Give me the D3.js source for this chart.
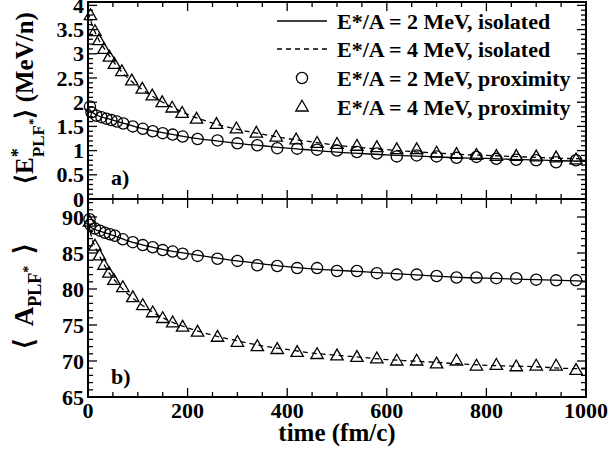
<!DOCTYPE html>
<html><head><meta charset="utf-8">
<script src="https://cdn.jsdelivr.net/npm/d3@7"></script>
<style>
html,body{margin:0;padding:0;background:#fff;}
</style></head>
<body><svg id="c" width="610" height="454"></svg>
<script>
// ---- data ----
const tIso = [0,10,20,40,60,80,100,150,200,250,300,350,400,450,500,550,600,650,700,750,800,850,900,950,1000];
const eIso2 = [1.88,1.78,1.72,1.66,1.60,1.54,1.48,1.37,1.28,1.21,1.15,1.10,1.05,1.01,0.97,0.94,0.91,0.89,0.87,0.85,0.84,0.82,0.81,0.79,0.78];
const eIso4 = [3.85,3.55,3.32,3.00,2.72,2.50,2.33,2.00,1.75,1.57,1.44,1.34,1.25,1.18,1.11,1.06,1.02,0.98,0.95,0.92,0.90,0.88,0.86,0.84,0.83];
const aIso2 = [88.8,88.4,88.1,87.7,87.2,86.7,86.3,85.5,84.9,84.4,83.9,83.5,83.1,82.8,82.6,82.4,82.2,82.0,81.8,81.6,81.5,81.4,81.3,81.2,81.1];
const aIso4 = [89.2,86.6,85.0,82.5,80.7,79.3,78.2,76.0,74.6,73.6,72.8,72.1,71.6,71.1,70.8,70.5,70.2,70.0,69.8,69.6,69.4,69.3,69.2,69.0,68.9];

const tLate = [460,500,540,580,620,660,700,740,780,820,860,900,940,980];
const tE2 = [4,7,17,27,37,47,58,71,90,110,130,150,170,190,220,260,300,340,380,420].concat(tLate);
const eProx2 = [1.91,1.79,1.72,1.69,1.66,1.63,1.60,1.56,1.50,1.45,1.40,1.36,1.33,1.29,1.24,1.21,1.15,1.11,1.05,1.04,
                1.02,1.00,0.97,0.94,0.88,0.90,0.88,0.85,0.87,0.83,0.81,0.80,0.76,0.80];
const tE4 = [5,14,22,32,43,53,68,88,109,129,149,169,189,218,258,298,338,378,418].concat(tLate);
const eProx4 = [3.79,3.46,3.27,3.09,2.93,2.78,2.63,2.44,2.27,2.13,1.99,1.88,1.77,1.65,1.54,1.45,1.36,1.28,1.22,
                1.15,1.13,1.09,1.06,1.02,1.02,0.95,0.92,0.90,0.88,0.88,0.87,0.85,0.81];
const tA2 = [3,5,14,24,34,44,54,70,90,110,130,150,170,190,220,260,300,340,380,420].concat(tLate);
const aProx2 = [89.7,88.9,88.4,88.1,87.8,87.6,87.4,86.9,86.5,86.1,85.8,85.4,85.2,84.9,84.6,84.2,83.9,83.3,83.2,82.9,
                82.9,82.5,82.5,82.2,82.0,82.0,81.8,81.6,81.6,81.5,81.5,81.3,81.2,81.2];
const tA4 = [3,14,23,32,42,52,70,90,110,130,150,170,190,220,260,300,340,380,420].concat(tLate);
const aProx4 = [89.3,85.96,84.6,83.3,82.2,81.2,80.2,78.8,77.7,76.7,75.9,75.3,74.7,74.0,73.3,72.6,72.0,71.6,71.2,
                70.9,70.7,70.5,70.3,70.0,70.0,69.6,70.0,69.3,69.4,69.2,69.3,69.3,68.7];

const xTicks = [0,200,400,600,800,1000];
const eTicks = [0,0.5,1,1.5,2,2.5,3,3.5,4];
const aTicks = [65,70,75,80,85,90];
const legendLabels = ["E*/A = 2 MeV, isolated","E*/A = 4 MeV, isolated","E*/A = 2 MeV, proximity","E*/A = 4 MeV, proximity"];

// ---- layout ----
const FONT = "Liberation Serif";
const L=88, R=586, T=2, M=199, B=397;
const svg = d3.select("#c");
const x = d3.scaleLinear().domain([0,1000]).range([L,R]);
const yE = d3.scaleLinear().domain([0,4.07]).range([M,T]);
const yA = d3.scaleLinear().domain([65,92.5]).range([B,M]);

const tri = "M0,-6.8L6.2,4L-6.2,4Z";

function txt(sel){ return sel.append("text").attr("font-family",FONT).attr("font-weight","bold").attr("fill","#000"); }

function panel(y, yMaj, yMinStep, isoA, isoB, pA_t, pA_v, pB_t, pB_v, fmt, top, bot, lab, labY){
  const g = svg.append("g");
  const lineA = d3.line().x((d,i)=>x(tIso[i])).y(d=>y(d)).curve(d3.curveMonotoneX);
  g.append("path").attr("d",lineA(isoA)).attr("fill","none").attr("stroke","#000").attr("stroke-width",1.3);
  g.append("path").attr("d",lineA(isoB)).attr("fill","none").attr("stroke","#000").attr("stroke-width",1.3).attr("stroke-dasharray","5,4");
  g.selectAll(".c").data(pA_v).enter().append("circle")
    .attr("cx",(d,i)=>x(pA_t[i])).attr("cy",d=>y(d)).attr("r",5.6)
    .attr("fill","none").attr("stroke","#000").attr("stroke-width",1.3);
  g.selectAll(".t").data(pB_v).enter().append("path")
    .attr("d",tri).attr("transform",(d,i)=>`translate(${x(pB_t[i])},${y(d)})`)
    .attr("fill","none").attr("stroke","#000").attr("stroke-width",1.3);
  const dom = y.domain();
  const tk = g.append("g").attr("stroke","#000").attr("stroke-width",1.3);
  d3.range(0,1001,50).forEach(v=>{
    const len = v%200===0?9:5;
    if(v===0||v===1000) return;
    tk.append("line").attr("x1",x(v)).attr("x2",x(v)).attr("y1",bot).attr("y2",bot-len);
    tk.append("line").attr("x1",x(v)).attr("x2",x(v)).attr("y1",top).attr("y2",top+len);
  });
  const minors = d3.range(Math.ceil(dom[0]/yMinStep), Math.floor(dom[1]/yMinStep)+1).map(k=>+(k*yMinStep).toFixed(4));
  minors.forEach(v=>{
    const isMaj = yMaj.some(m=>Math.abs(m-v)<1e-6);
    const len = isMaj?9:5;
    if(y(v)<=top+0.5 || y(v)>=bot-0.5) return;
    tk.append("line").attr("x1",L).attr("x2",L+len).attr("y1",y(v)).attr("y2",y(v));
    tk.append("line").attr("x1",R).attr("x2",R-len).attr("y1",y(v)).attr("y2",y(v));
  });
  yMaj.forEach(v=>{
    txt(g).attr("x",L-4).attr("y",y(v)).attr("dy","0.35em").attr("text-anchor","end")
      .attr("font-size",22).text(fmt(v));
  });
  txt(g).attr("x",111).attr("y",labY).attr("font-size",22).text(lab);
}

panel(yE, eTicks, 0.1, eIso2, eIso4, tE2, eProx2, tE4, eProx4, d=>String(d), T, M, "a)", 185);
panel(yA, aTicks, 1, aIso2, aIso4, tA2, aProx2, tA4, aProx4, d=>String(d), M, B, "b)", 384);

svg.append("rect").attr("x",L).attr("y",T).attr("width",R-L).attr("height",B-T)
  .attr("fill","none").attr("stroke","#000").attr("stroke-width",2);
svg.append("line").attr("x1",L).attr("x2",R).attr("y1",M).attr("y2",M).attr("stroke","#000").attr("stroke-width",2);

xTicks.forEach(v=>{
  txt(svg).attr("x",x(v)).attr("y",418).attr("text-anchor","middle").attr("font-size",22).text(v);
});
txt(svg).attr("x",(L+R)/2).attr("y",441).attr("text-anchor","middle").attr("font-size",25).text("time (fm/c)");

const t1 = txt(svg).attr("transform","translate(33,98) rotate(-90)").attr("text-anchor","middle").attr("font-size",25);
t1.append("tspan").text("\u27E8E");
t1.append("tspan").attr("font-size",18).attr("dy",-9).text("*");
t1.append("tspan").attr("font-size",17).attr("dy",20).attr("dx",-9).text("PLF");
t1.append("tspan").attr("font-size",13).attr("dy",-7).text("*");
t1.append("tspan").attr("dy",-4).text("\u27E9 (MeV/n)");

const t2 = txt(svg).attr("transform","translate(33,296) rotate(-90)").attr("text-anchor","middle").attr("font-size",27);
t2.append("tspan").text("\u27E8");
t2.append("tspan").attr("dx",12).text("A");
t2.append("tspan").attr("font-size",18).attr("dy",8).text("PLF");
t2.append("tspan").attr("font-size",14).attr("dy",-8).text("*");
t2.append("tspan").attr("dy",0).attr("dx",12).text("\u27E9");

const lg = svg.append("g");
const ly = [21,49,78,107];
lg.append("line").attr("x1",277).attr("x2",327).attr("y1",ly[0]).attr("y2",ly[0]).attr("stroke","#000").attr("stroke-width",1.3);
lg.append("line").attr("x1",277).attr("x2",327).attr("y1",ly[1]).attr("y2",ly[1]).attr("stroke","#000").attr("stroke-width",1.3).attr("stroke-dasharray","5,4");
lg.append("circle").attr("cx",302).attr("cy",ly[2]).attr("r",5.6).attr("fill","none").attr("stroke","#000").attr("stroke-width",1.3);
lg.append("path").attr("d",tri).attr("transform",`translate(302,${ly[3]})`).attr("fill","none").attr("stroke","#000").attr("stroke-width",1.3);
legendLabels.forEach((d,i)=>{
  txt(lg).attr("x",337).attr("y",ly[i]).attr("dy","0.35em").attr("font-size",22).text(d);
});
</script></body></html>
